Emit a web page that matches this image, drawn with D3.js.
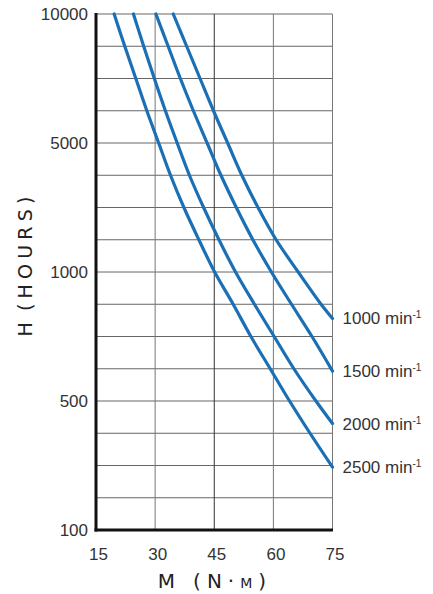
<!DOCTYPE html>
<html><head><meta charset="utf-8">
<script src="https://cdn.jsdelivr.net/npm/d3@7"></script>
<style>
html,body{margin:0;padding:0;background:#fff;}
svg{display:block;}
</style></head>
<body>
<svg id="chart" width="433" height="594"></svg>
<script>
// ---- data ----
const mTicks = [15, 30, 45, 60, 75];
const hTicks = [10000, 5000, 1000, 500, 100];
const hGrid = [10000, 8750, 7500, 6250, 5000, 4000, 3000, 2000, 1000, 875, 750, 625, 500, 400, 300, 200, 100];
const speeds = ["1000", "1500", "2000", "2500"];
const m1000 = [34.6, 38.0, 41.4, 44.8, 48.4, 52.0, 56.1, 60.7, 66.3, 72.1, 75];
const h1000 = [10000, 8750, 7500, 6250, 5000, 4000, 3000, 2000, 1000, 875, 820];
const m1500 = [30.2, 33.3, 36.4, 39.7, 43.2, 46.7, 50.6, 54.8, 59.5, 64.6, 69.8, 75];
const h1500 = [10000, 8750, 7500, 6250, 5000, 4000, 3000, 2000, 1000, 875, 750, 616];
const m2000 = [24.5, 27.1, 29.8, 32.6, 35.6, 38.7, 42.3, 46.2, 50.4, 55.2, 60.2, 65.2, 70.8, 75];
const h2000 = [10000, 8750, 7500, 6250, 5000, 4000, 3000, 2000, 1000, 875, 750, 625, 500, 430];
const m2500 = [19.6, 22.3, 25.1, 27.9, 30.9, 33.9, 37.3, 41.1, 45.1, 49.8, 54.3, 59.2, 64.1, 69.3, 75];
const h2500 = [10000, 8750, 7500, 6250, 5000, 4000, 3000, 2000, 1000, 875, 750, 625, 500, 400, 295];
const seriesM = [m1000, m1500, m2000, m2500];
const seriesH = [h1000, h1500, h2000, h2500];

(function () {
const svg = d3.select("#chart");
const pL = 96, pR = 332.5, pT = 14, pB = 530;
const x = d3.scaleLinear().domain([15, 75]).range([pL, pR]);
const q = (pB - pT) / 4;
const y = d3.scaleLinear().domain([100, 500, 1000, 5000, 10000])
  .range([pB, pB - q, pB - 2 * q, pB - 3 * q, pT]);

const numFont = "'Liberation Sans Narrow','Arial Narrow','Liberation Sans',sans-serif";

// grid
svg.append("g").selectAll("line").data(hGrid).join("line")
  .attr("x1", pL).attr("x2", pR)
  .attr("y1", d => y(d)).attr("y2", d => y(d))
  .attr("stroke", "#666").attr("stroke-width", 1);
svg.append("g").selectAll("line").data(mTicks.slice(1)).join("line")
  .attr("x1", d => x(d)).attr("x2", d => x(d))
  .attr("y1", pT).attr("y2", pB)
  .attr("stroke", d => d === 45 ? "#333" : "#777").attr("stroke-width", 1);

// axes lines
svg.append("line").attr("x1", pL).attr("x2", pL).attr("y1", pT - 1).attr("y2", pB + 1.5)
  .attr("stroke", "#111").attr("stroke-width", 3);
svg.append("line").attr("x1", pL - 1.5).attr("x2", pR + 0.5).attr("y1", pB).attr("y2", pB)
  .attr("stroke", "#111").attr("stroke-width", 3);

// y axis labels
const yAxis = d3.axisLeft(y).tickValues(hTicks).tickSize(0).tickPadding(8).tickFormat(d3.format("d"));
const gy = svg.append("g").attr("transform", `translate(${pL},0)`).call(yAxis);
gy.select(".domain").remove();
gy.selectAll("text").attr("font-family", numFont).attr("font-size", 17).attr("fill", "#333");

// x axis labels
const xAxis = d3.axisBottom(x).tickValues(mTicks).tickSize(0).tickPadding(18).tickFormat(d3.format("d"));
const gx = svg.append("g").attr("transform", `translate(2,${pB})`).call(xAxis);
gx.select(".domain").remove();
gx.selectAll("text").attr("font-family", numFont).attr("font-size", 17).attr("fill", "#333");

// curves
const line = d3.line().x(d => x(d[0])).y(d => y(d[1])).curve(d3.curveCatmullRom.alpha(0.5));
speeds.forEach((s, i) => {
  const pts = seriesM[i].map((m, j) => [m, seriesH[i][j]]);
  svg.append("path").datum(pts).attr("d", line)
    .attr("fill", "none").attr("stroke", "#1a6fb5").attr("stroke-width", 3.2)
    .attr("stroke-linecap", "round");
  const endH = seriesH[i][seriesH[i].length - 1];
  const t = svg.append("text").attr("x", pR + 10).attr("y", y(endH) + 6)
    .attr("font-family", numFont).attr("font-size", 17).attr("fill", "#333");
  t.append("tspan").text(s + " min");
  t.append("tspan").attr("dy", -6).attr("font-size", 10).text("-1");
});

// axis titles
const titleFont = "'DejaVu Sans',sans-serif";
const xt = svg.append("text").attr("x", 215).attr("y", 588).attr("text-anchor", "middle")
  .attr("font-family", titleFont).attr("font-size", 20).attr("fill", "#222")
  .attr("letter-spacing", 6);
xt.append("tspan").text("M");
xt.append("tspan").attr("dx", 12).text("(N·");
xt.append("tspan").attr("font-size", 14).text("M");
xt.append("tspan").text(")");

const yt = svg.append("text").attr("transform", "translate(32,264) rotate(-90)").attr("text-anchor", "middle")
  .attr("font-family", titleFont).attr("font-size", 19).attr("fill", "#222")
  .attr("letter-spacing", 5.2);
yt.append("tspan").text("H");
yt.append("tspan").attr("dx", 6).text("(HOURS)");
})();
</script>
</body></html>
